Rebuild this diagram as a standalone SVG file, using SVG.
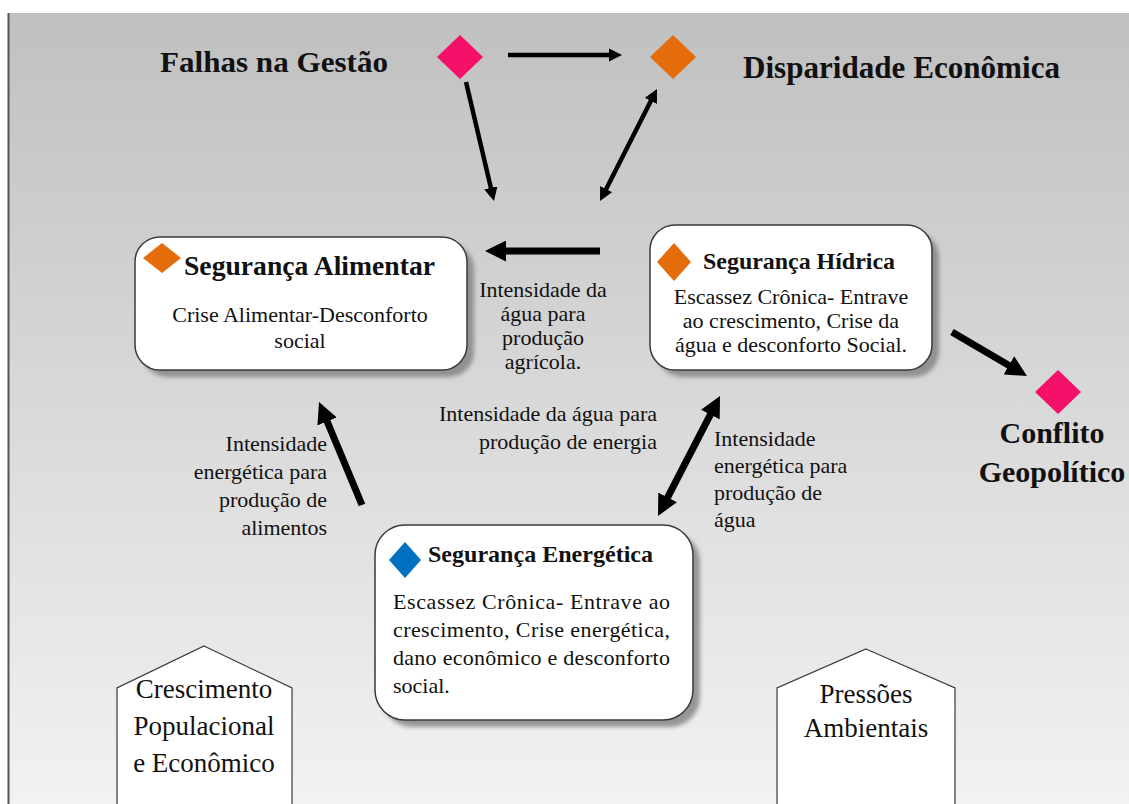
<svg xmlns="http://www.w3.org/2000/svg" width="1129" height="804" viewBox="0 0 1129 804">
<defs>
<linearGradient id="bg" gradientUnits="userSpaceOnUse" x1="0" y1="13" x2="0" y2="804">
<stop offset="0" stop-color="#c0c0c0"/>
<stop offset="1" stop-color="#f2f2f2"/>
</linearGradient>
<filter id="blur" x="-10%" y="-10%" width="130%" height="130%"><feGaussianBlur stdDeviation="2"/></filter>
<marker id="ah" viewBox="0 0 10 10" refX="2" refY="5" markerWidth="3" markerHeight="3" orient="auto-start-reverse" markerUnits="strokeWidth">
<path d="M0,0 L10,5 L0,10 z" fill="#000"/>
</marker>
<style>
.t{font-family:"Liberation Serif","Times New Roman",serif;fill:#111}
.b{font-weight:bold}
.box{fill:#fff;stroke:#3a3a3a;stroke-width:1.5}
.sh{fill:#7a7a7a;opacity:0.75;filter:url(#blur)}
.pent{fill:#fff;stroke:#3a3a3a;stroke-width:1.2}
.c{stroke:#000;fill:none;marker-end:url(#ah)}
.dbl{marker-start:url(#ah)}
.thin{stroke-width:4.5}
.thick{stroke-width:7}
.pink{fill:#f5106a}
.orange{fill:#e46c0a}
.blue{fill:#0070c0}
</style>
</defs>
<rect width="1129" height="804" fill="#fff"/>
<rect x="8" y="13" width="1121" height="791" fill="url(#bg)"/>
<line x1="8.5" y1="13" x2="8.5" y2="804" stroke="#555" stroke-width="2"/>

<g id="falhas">
<polygon class="pink" points="460,35 483,57 460,79 437,57"/>
<text class="t b" x="160" y="72" font-size="30" textLength="228" lengthAdjust="spacingAndGlyphs">Falhas na Gestão</text>
</g>
<g id="disparidade">
<polygon class="orange" points="673,35 696,57 673,79 650,57"/>
<text class="t b" x="743" y="78" font-size="31" textLength="317" lengthAdjust="spacingAndGlyphs">Disparidade Econômica</text>
</g>

<g id="alimentar">
<rect class="sh" x="142" y="244" width="332" height="133" rx="25"/>
<rect class="box" x="135" y="237" width="332" height="133" rx="25"/>
<polygon class="orange" points="162,243 181,258 162,273 143,258"/>
<text class="t b" x="184" y="275" font-size="27.5" textLength="251" lengthAdjust="spacingAndGlyphs">Segurança Alimentar</text>
<text class="t" font-size="22" text-anchor="middle"><tspan x="300" y="322">Crise Alimentar-Desconforto</tspan><tspan x="300" y="348">social</tspan></text>
</g>

<g id="hidrica">
<rect class="sh" x="657" y="232" width="282" height="145" rx="25"/>
<rect class="box" x="650" y="225" width="282" height="145" rx="25"/>
<polygon class="orange" points="674,243 691,262 674,281 657,262"/>
<text class="t b" x="703" y="269" font-size="24" textLength="192" lengthAdjust="spacingAndGlyphs">Segurança Hídrica</text>
<text class="t" font-size="22" text-anchor="middle"><tspan x="791" y="304">Escassez Crônica- Entrave</tspan><tspan x="791" y="328">ao crescimento, Crise da</tspan><tspan x="791" y="352">água e desconforto Social.</tspan></text>
</g>

<g id="energetica">
<rect class="sh" x="382" y="532" width="318" height="195" rx="30"/>
<rect class="box" x="375" y="525" width="318" height="195" rx="30"/>
<polygon class="blue" points="405,542 421,560 405,578 389,560"/>
<text class="t b" x="428" y="562" font-size="24" textLength="225" lengthAdjust="spacingAndGlyphs">Segurança Energética</text>
<text class="t" font-size="22" x="393" y="609" textLength="277" lengthAdjust="spacing">Escassez Crônica- Entrave ao</text>
<text class="t" font-size="22" x="393" y="637" textLength="277" lengthAdjust="spacing">crescimento, Crise energética,</text>
<text class="t" font-size="22" x="393" y="665" textLength="277" lengthAdjust="spacing">dano econômico e desconforto</text>
<text class="t" font-size="22" x="393" y="693">social.</text>
</g>

<g id="conflito">
<polygon class="pink" points="1058,370 1081,392 1058,414 1035,392"/>
<text class="t b" font-size="30" text-anchor="middle"><tspan x="1052" y="443">Conflito</tspan><tspan x="1052" y="482">Geopolítico</tspan></text>
</g>

<g id="crescimento">
<polygon class="pent" points="204,646 292,688 292,810 117,810 117,688"/>
<text class="t" font-size="27" text-anchor="middle"><tspan x="204" y="698">Crescimento</tspan><tspan x="204" y="735">Populacional</tspan><tspan x="204" y="772">e Econômico</tspan></text>
</g>

<g id="pressoes">
<polygon class="pent" points="866,649 955,688 955,810 777,810 777,688"/>
<text class="t" font-size="27" text-anchor="middle"><tspan x="866" y="703">Pressões</tspan><tspan x="866" y="737">Ambientais</tspan></text>
</g>

<g id="labels">
<text class="t" font-size="22" text-anchor="middle"><tspan x="543" y="297">Intensidade da</tspan><tspan x="543" y="321">água para</tspan><tspan x="543" y="345">produção</tspan><tspan x="543" y="369">agrícola.</tspan></text>
<text class="t" font-size="22" text-anchor="end"><tspan x="657" y="421">Intensidade da água para</tspan><tspan x="657" y="449">produção de energia</tspan></text>
<text class="t" font-size="22" text-anchor="end"><tspan x="327" y="451">Intensidade</tspan><tspan x="327" y="479">energética para</tspan><tspan x="327" y="507">produção de</tspan><tspan x="327" y="535">alimentos</tspan></text>
<text class="t" font-size="22"><tspan x="714" y="446">Intensidade</tspan><tspan x="714" y="473">energética para</tspan><tspan x="714" y="500">produção de</tspan><tspan x="714" y="527">água</tspan></text>
</g>

<g id="connectors">
<line class="c thin" x1="508" y1="55" x2="611.2" y2="55"/>
<line class="c thin" x1="466" y1="82" x2="491.5" y2="190.5"/>
<line class="c thin dbl" x1="604.9" y1="191.4" x2="652.1" y2="98.6"/>
<line class="c thick" x1="600" y1="251" x2="501.8" y2="251"/>
<line class="c thick" x1="952" y1="332" x2="1012.5" y2="367.5"/>
<line class="c thick" x1="362" y1="505" x2="325.5" y2="417.5"/>
<line class="c thick dbl" x1="665.7" y1="501.1" x2="712.3" y2="410.9"/>
</g>
</svg>
